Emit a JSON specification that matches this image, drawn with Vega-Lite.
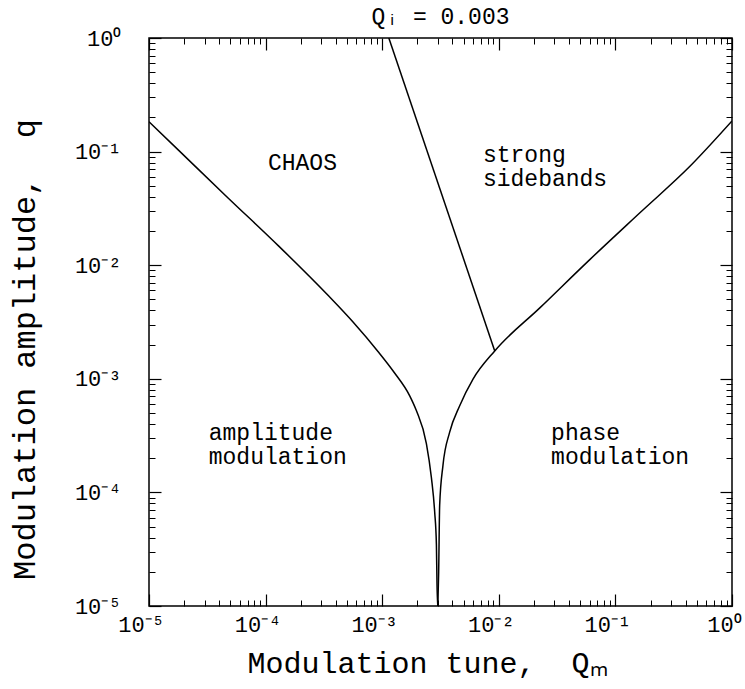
{
  "$schema": "https://vega.github.io/schema/vega-lite/v6.json",
  "autosize": {"type": "none"},
  "padding": {"left": 149, "top": 38, "right": 13, "bottom": 83},
  "width": 583,
  "height": 568,
  "background": "white",
  "config": {"font": "Liberation Mono", "view": {"stroke": "black", "strokeWidth": 1.5, "fill": null}, "axis": {"zindex": 2, "ticks": true, "tickOpacity": 1}},
  "title": {"text": "Qᵢ = 0.003", "anchor": "middle", "frame": "group", "orient": "top", "offset": 2, "dy": 22, "baseline": "alphabetic", "font": "Liberation Mono", "fontSize": 23, "fontWeight": "normal", "color": "black"},
  "datasets": {
    "curves": [
      {"series": "am", "QM": 0.00001, "q": 0.183},
      {"series": "am", "QM": 0.0000178, "q": 0.1035},
      {"series": "am", "QM": 0.0000479, "q": 0.0389},
      {"series": "am", "QM": 0.000129, "q": 0.0148},
      {"series": "am", "QM": 0.000343, "q": 0.00543},
      {"series": "am", "QM": 0.000562, "q": 0.00316},
      {"series": "am", "QM": 0.00092, "q": 0.00174},
      {"series": "am", "QM": 0.001259, "q": 0.001148},
      {"series": "am", "QM": 0.001722, "q": 0.000708},
      {"series": "am", "QM": 0.001963, "q": 0.000525},
      {"series": "am", "QM": 0.002393, "q": 0.000269},
      {"series": "am", "QM": 0.002642, "q": 0.000135},
      {"series": "am", "QM": 0.002818, "q": 0.0000676},
      {"series": "am", "QM": 0.002917, "q": 0.0000347},
      {"series": "am", "QM": 0.002951, "q": 0.0000158},
      {"series": "am", "QM": 0.00300, "q": 0.00001},
      {"series": "pm", "QM": 0.00300, "q": 0.00001},
      {"series": "pm", "QM": 0.00305, "q": 0.00002},
      {"series": "pm", "QM": 0.00311, "q": 0.0000769},
      {"series": "pm", "QM": 0.00332, "q": 0.000173},
      {"series": "pm", "QM": 0.00379, "q": 0.000339},
      {"series": "pm", "QM": 0.00462, "q": 0.000579},
      {"series": "pm", "QM": 0.00601, "q": 0.000993},
      {"series": "pm", "QM": 0.00923, "q": 0.00176},
      {"series": "pm", "QM": 0.0226, "q": 0.00423},
      {"series": "pm", "QM": 0.0603, "q": 0.0112},
      {"series": "pm", "QM": 0.1614, "q": 0.0288},
      {"series": "pm", "QM": 0.4335, "q": 0.0738},
      {"series": "pm", "QM": 1.0, "q": 0.186},
      {"series": "sb", "QM": 0.00114, "q": 1.0},
      {"series": "sb", "QM": 0.00923, "q": 0.00176}
    ],
    "labels": [
      {"QM": 0.0001047, "q": 0.0692, "label": "CHAOS"},
      {"QM": 0.00731, "q": 0.0818, "label": "strong"},
      {"QM": 0.00731, "q": 0.0503, "label": "sidebands"},
      {"QM": 0.00003254, "q": 0.000291, "label": "amplitude"},
      {"QM": 0.00003254, "q": 0.000179, "label": "modulation"},
      {"QM": 0.0281, "q": 0.000291, "label": "phase"},
      {"QM": 0.0281, "q": 0.000179, "label": "modulation"}
    ]
  },
  "layer": [
    {
      "data": {"name": "curves"},
      "mark": {"type": "line", "color": "black", "strokeWidth": 1.5, "clip": true, "interpolate": "monotone"},
      "encoding": {
        "x": {
          "field": "QM", "type": "quantitative",
          "scale": {"type": "log", "domain": [0.00001, 1], "nice": false},
          "axis": {
            "orient": "bottom",
            "values": [0.00001, 0.0001, 0.001, 0.01, 0.1, 1],
            "labelExpr": "datum.value == 1 ? '10⁰' : datum.value == 0.1 ? '10⁻¹' : datum.value == 0.01 ? '10⁻²' : datum.value == 0.001 ? '10⁻³' : datum.value == 0.0001 ? '10⁻⁴' : '10⁻⁵'",
            "labelOverlap": false,
            "labelFlush": false,
            "labelOffset": -8,
            "labelFont": "Liberation Mono",
            "labelFontSize": 22,
            "labelColor": "black",
            "labelPadding": 8,
            "grid": false,
            "domain": false,
            "offset": -12,
            "tickColor": "black",
            "tickWidth": 1.2,
            "tickSize": 12,
            "title": "Modulation tune, \u00a0Qₘ",
            "titleFont": "Liberation Mono",
            "titleFontSize": 30,
            "titleFontWeight": "normal",
            "titleColor": "black",
            "titleX": 278,
            "titleY": 78,
            "titleBaseline": "alphabetic",
            "titleAlign": "center"
          }
        },
        "y": {
          "field": "q", "type": "quantitative",
          "scale": {"type": "log", "domain": [0.00001, 1], "nice": false},
          "axis": {
            "orient": "left",
            "values": [0.00001, 0.0001, 0.001, 0.01, 0.1, 1],
            "labelExpr": "datum.value == 1 ? '10⁰' : datum.value == 0.1 ? '10⁻¹' : datum.value == 0.01 ? '10⁻²' : datum.value == 0.001 ? '10⁻³' : datum.value == 0.0001 ? '10⁻⁴' : '10⁻⁵'",
            "labelOverlap": false,
            "labelFlush": false,
            "labelFont": "Liberation Mono",
            "labelFontSize": 22,
            "labelColor": "black",
            "labelPadding": 28,
            "grid": false,
            "domain": false,
            "offset": -12,
            "tickColor": "black",
            "tickWidth": 1.2,
            "tickSize": 12,
            "title": "Modulation amplitude, \u00a0q",
            "titleFont": "Liberation Mono",
            "titleFontSize": 32,
            "titleFontWeight": "normal",
            "titleColor": "black",
            "titleAngle": -90,
            "titleX": -137,
            "titleY": 311,
            "titleBaseline": "middle",
            "titleAlign": "center"
          }
        },
        "detail": {"field": "series"}
      }
    },
    {
      "data": {"name": "labels"},
      "mark": {"type": "text", "align": "left", "baseline": "alphabetic", "font": "Liberation Mono", "fontSize": 23, "color": "black"},
      "encoding": {
        "x": {
          "field": "QM", "type": "quantitative",
          "scale": {"type": "log", "domain": [0.00001, 1], "nice": false},
          "axis": {
            "orient": "top",
            "values": [0.00001, 0.0001, 0.001, 0.01, 0.1, 1],
            "labels": false,
            "grid": false,
            "domain": false,
            "offset": -12,
            "tickColor": "black",
            "tickWidth": 1.2,
            "tickSize": 12,
            "title": null
          }
        },
        "y": {
          "field": "q", "type": "quantitative",
          "scale": {"type": "log", "domain": [0.00001, 1], "nice": false},
          "axis": {
            "orient": "right",
            "values": [0.00001, 0.0001, 0.001, 0.01, 0.1, 1],
            "labels": false,
            "grid": false,
            "domain": false,
            "offset": -12,
            "tickColor": "black",
            "tickWidth": 1.2,
            "tickSize": 12,
            "title": null
          }
        },
        "text": {"field": "label", "type": "nominal"}
      }
    },
    {
      "data": {"name": "curves"},
      "mark": {"type": "point", "opacity": 0},
      "encoding": {
        "x": {
          "field": "QM", "type": "quantitative",
          "scale": {"type": "log", "domain": [0.00001, 1], "nice": false},
          "axis": {
            "orient": "bottom",
            "values": [0.00002,0.00003,0.00004,0.00005,0.00006,0.00007,0.00008,0.00009,0.0002,0.0003,0.0004,0.0005,0.0006,0.0007,0.0008,0.0009,0.002,0.003,0.004,0.005,0.006,0.007,0.008,0.009,0.02,0.03,0.04,0.05,0.06,0.07,0.08,0.09,0.2,0.3,0.4,0.5,0.6,0.7,0.8,0.9],
            "labels": false,
            "grid": false,
            "domain": false,
            "offset": -6,
            "tickColor": "black",
            "tickWidth": 1,
            "tickSize": 6,
            "title": null
          }
        },
        "y": {
          "field": "q", "type": "quantitative",
          "scale": {"type": "log", "domain": [0.00001, 1], "nice": false},
          "axis": {
            "orient": "left",
            "values": [0.00002,0.00003,0.00004,0.00005,0.00006,0.00007,0.00008,0.00009,0.0002,0.0003,0.0004,0.0005,0.0006,0.0007,0.0008,0.0009,0.002,0.003,0.004,0.005,0.006,0.007,0.008,0.009,0.02,0.03,0.04,0.05,0.06,0.07,0.08,0.09,0.2,0.3,0.4,0.5,0.6,0.7,0.8,0.9],
            "labels": false,
            "grid": false,
            "domain": false,
            "offset": -6,
            "tickColor": "black",
            "tickWidth": 1,
            "tickSize": 6,
            "title": null
          }
        }
      }
    },
    {
      "data": {"name": "curves"},
      "mark": {"type": "point", "opacity": 0},
      "encoding": {
        "x": {
          "field": "QM", "type": "quantitative",
          "scale": {"type": "log", "domain": [0.00001, 1], "nice": false},
          "axis": {
            "orient": "top",
            "values": [0.00002,0.00003,0.00004,0.00005,0.00006,0.00007,0.00008,0.00009,0.0002,0.0003,0.0004,0.0005,0.0006,0.0007,0.0008,0.0009,0.002,0.003,0.004,0.005,0.006,0.007,0.008,0.009,0.02,0.03,0.04,0.05,0.06,0.07,0.08,0.09,0.2,0.3,0.4,0.5,0.6,0.7,0.8,0.9],
            "labels": false,
            "grid": false,
            "domain": false,
            "offset": -6,
            "tickColor": "black",
            "tickWidth": 1,
            "tickSize": 6,
            "title": null
          }
        },
        "y": {
          "field": "q", "type": "quantitative",
          "scale": {"type": "log", "domain": [0.00001, 1], "nice": false},
          "axis": {
            "orient": "right",
            "values": [0.00002,0.00003,0.00004,0.00005,0.00006,0.00007,0.00008,0.00009,0.0002,0.0003,0.0004,0.0005,0.0006,0.0007,0.0008,0.0009,0.002,0.003,0.004,0.005,0.006,0.007,0.008,0.009,0.02,0.03,0.04,0.05,0.06,0.07,0.08,0.09,0.2,0.3,0.4,0.5,0.6,0.7,0.8,0.9],
            "labels": false,
            "grid": false,
            "domain": false,
            "offset": -6,
            "tickColor": "black",
            "tickWidth": 1,
            "tickSize": 6,
            "title": null
          }
        }
      }
    }
  ],
  "resolve": {"axis": {"x": "independent", "y": "independent"}}
}
